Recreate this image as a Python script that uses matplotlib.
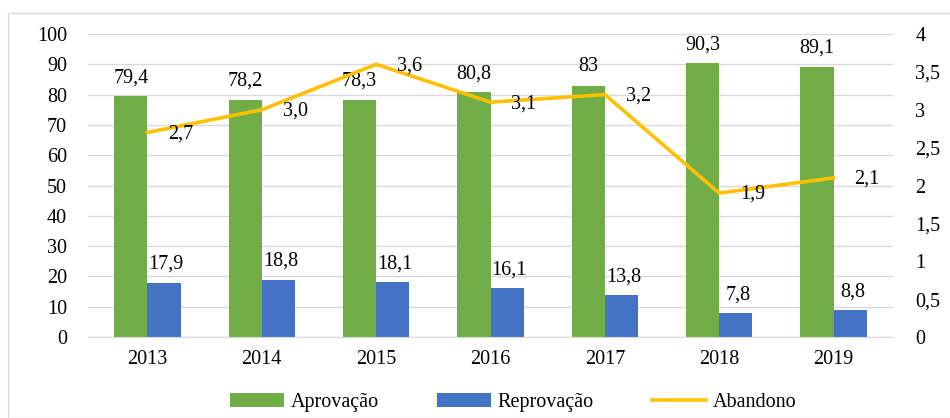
import numpy as np
import matplotlib.pyplot as plt
from matplotlib.patches import Rectangle

anos = ['2013', '2014', '2015', '2016', '2017', '2018', '2019']
aprovacao = [79.4, 78.2, 78.3, 80.8, 83, 90.3, 89.1]
reprovacao = [17.9, 18.8, 18.1, 16.1, 13.8, 7.8, 8.8]
abandono = [2.7, 3.0, 3.6, 3.1, 3.2, 1.9, 2.1]

plt.rcParams['font.family'] = ['Liberation Serif', 'DejaVu Serif']
plt.rcParams['font.size'] = 14.5

def fmt(v, casas=1):
    return ('%.*f' % (casas, v)).replace('.', ',')

fig = plt.figure(figsize=(9.5, 4.18), dpi=100)
fig.patches.append(Rectangle((8/950, 0), 1, 1 - 13/418, transform=fig.transFigure,
                             fill=False, edgecolor='#d9d9d9', linewidth=1))
ax = fig.add_axes([88/950, 81/418, 805/950, 303/418])
ax2 = ax.twinx()

x = np.arange(len(anos))
w = 0.29
b1 = ax.bar(x - w/2, aprovacao, w, color='#70AD47', label='Aprovação', zorder=2)
b2 = ax.bar(x + w/2, reprovacao, w, color='#4472C4', label='Reprovação', zorder=2)

for xi, v in zip(x, aprovacao):
    lab = fmt(v) if v != int(v) else str(int(v))
    ax.text(xi - w/2, v + 3, lab, ha='center', va='bottom')
for xi, v in zip(x, reprovacao):
    ax.text(xi + w/2 + 0.02, v + 3, fmt(v), ha='center', va='bottom')

ax.set_ylim(0, 100)
ax.set_yticks(range(0, 101, 10))
ax.set_xlim(-0.52, len(anos) - 0.48)
ax.set_xticks(x)
ax.set_xticklabels(anos)
ax.grid(axis='y', color='#d9d9d9', linewidth=1, zorder=0)
ax.set_axisbelow(True)
for s in ax.spines.values():
    s.set_visible(False)
ax.spines['bottom'].set_visible(True)
ax.spines['bottom'].set_color('#d9d9d9')
ax.tick_params(axis='y', length=0, pad=15)
ax.tick_params(axis='x', length=0, pad=9)

l, = ax2.plot(x, abandono, color='#FFC000', linewidth=2.6, label='Abandono', zorder=3)
for xi, v in zip(x, abandono):
    ax2.annotate(fmt(v), (xi, v), xytext=(15, -1), textcoords='offset points',
                 ha='left', va='center')
ax2.set_ylim(0, 4)
ax2.set_yticks(np.arange(0, 4.01, 0.5))
ax2.set_yticklabels([fmt(t) if t != int(t) else str(int(t)) for t in np.arange(0, 4.01, 0.5)])
for s in ax2.spines.values():
    s.set_visible(False)
ax2.tick_params(length=0, pad=16)

fig.legend(handles=[b1, b2, l], loc='lower center', ncol=3, frameon=False,
           bbox_to_anchor=(0.54, -0.03), handlelength=2.7, columnspacing=2.9,
           handletextpad=0.3)

fig.savefig('out.png', dpi=100)
